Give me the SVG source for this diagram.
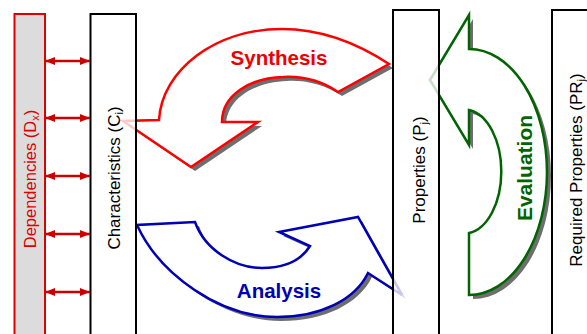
<svg xmlns="http://www.w3.org/2000/svg" width="587" height="334" viewBox="0 0 587 334">
  <style>
    .lbl { font-family: "Liberation Sans", Arial, sans-serif; font-size: 17px; fill: #000; }
    .big { font-family: "Liberation Sans", Arial, sans-serif; font-weight: bold; }
    .shadow { fill: #6e6e6e; stroke: none; }
    .box { fill: #ffffff; fill-opacity: 0.78; stroke: #000; stroke-width: 2; }
    .link { stroke: #cc0000; stroke-width: 2.5; fill: none; marker-start: url(#head); marker-end: url(#head); }
  </style>
  <defs>
    <marker id="head" viewBox="0 0 10 8" refX="10" refY="4" markerWidth="10" markerHeight="8" markerUnits="userSpaceOnUse" orient="auto-start-reverse">
      <path d="M0,0 L10,4 L0,8 Z" fill="#cc0000"/>
    </marker>
    <path id="synthShape" d="M389,64 C360,45 325,29 282,29 C215,29 162,70 159,120 L123,121 L191,167 L258,122 L222,122 C222,95 250,78 283,77 C300,76 320,80 338,92 Z"/>
    <path id="analysisShape" d="M137,225 C160,275 220,317 277,317 C320,317 355,300 368,273 L402,295 L358,217 L279,232 L310,246 C300,262 282,268 262,268 C235,268 205,250 195,222 Z"/>
    <path id="evalShape" d="M430,80 L469,15 L469,49 A78,123 0 0 1 469,295 L469,233 A37,62 0 0 0 469,110 L469,145 Z"/>
  </defs>

  <rect width="587" height="334" fill="#ffffff"/>

  <!-- Dependencies -->
  <g id="dependencies">
    <rect x="14.5" y="14" width="30.5" height="330" fill="#dcdcdc" stroke="#dd0000" stroke-width="2"/>
    <text class="lbl" transform="translate(36,179) rotate(-90)" text-anchor="middle" style="font-size:16.5px;fill:#dd0000">Dependencies (D<tspan font-size="11" dy="3">x</tspan><tspan dy="-3">)</tspan></text>
  </g>

  <!-- Cycle arrows (drawn beneath the translucent boxes) -->
  <g id="synthesis">
    <use href="#synthShape" class="shadow" transform="translate(4,4)"/>
    <use href="#synthShape" fill="#ffffff" stroke="#ff0000" stroke-width="2.5" stroke-linejoin="miter"/>
    <text class="big" x="279" y="65" text-anchor="middle" font-size="20.5" fill="#ee0000">Synthesis</text>
  </g>

  <g id="analysis">
    <use href="#analysisShape" class="shadow" transform="translate(4,4)"/>
    <use href="#analysisShape" fill="#ffffff" stroke="#0000b4" stroke-width="2.5"/>
    <text class="big" x="279" y="298" text-anchor="middle" font-size="20.5" fill="#0000b4">Analysis</text>
  </g>

  <g id="evaluation">
    <use href="#evalShape" class="shadow" transform="translate(4,4)"/>
    <use href="#evalShape" fill="#ffffff" stroke="#006400" stroke-width="2.5"/>
    <text class="big" transform="translate(532,168) rotate(-90)" text-anchor="middle" font-size="21" fill="#006400">Evaluation</text>
  </g>

  <!-- Characteristics -->
  <g id="characteristics">
    <rect class="box" x="90.5" y="14" width="45.5" height="330"/>
    <text class="lbl" transform="translate(119.5,178) rotate(-90)" text-anchor="middle">Characteristics (C<tspan font-size="11" dy="3">i</tspan><tspan dy="-3">)</tspan></text>
  </g>

  <!-- Properties -->
  <g id="properties">
    <rect class="box" x="393" y="10" width="46" height="334"/>
    <text class="lbl" transform="translate(425,170) rotate(-90)" text-anchor="middle">Properties (P<tspan font-size="11" dy="3">j</tspan><tspan dy="-3">)</tspan></text>
  </g>

  <!-- Required properties -->
  <g id="required-properties">
    <rect class="box" x="552" y="10" width="45" height="334"/>
    <text class="lbl" transform="translate(582,170) rotate(-90)" text-anchor="middle">Required Properties (PR<tspan font-size="11" dy="3">j</tspan><tspan dy="-3">)</tspan></text>
  </g>

  <!-- Dependency links -->
  <g id="links">
    <line class="link" x1="45" y1="61" x2="90" y2="61"/>
    <line class="link" x1="45" y1="118" x2="90" y2="118"/>
    <line class="link" x1="45" y1="176" x2="90" y2="176"/>
    <line class="link" x1="45" y1="234" x2="90" y2="234"/>
    <line class="link" x1="45" y1="292" x2="90" y2="292"/>
  </g>
</svg>
